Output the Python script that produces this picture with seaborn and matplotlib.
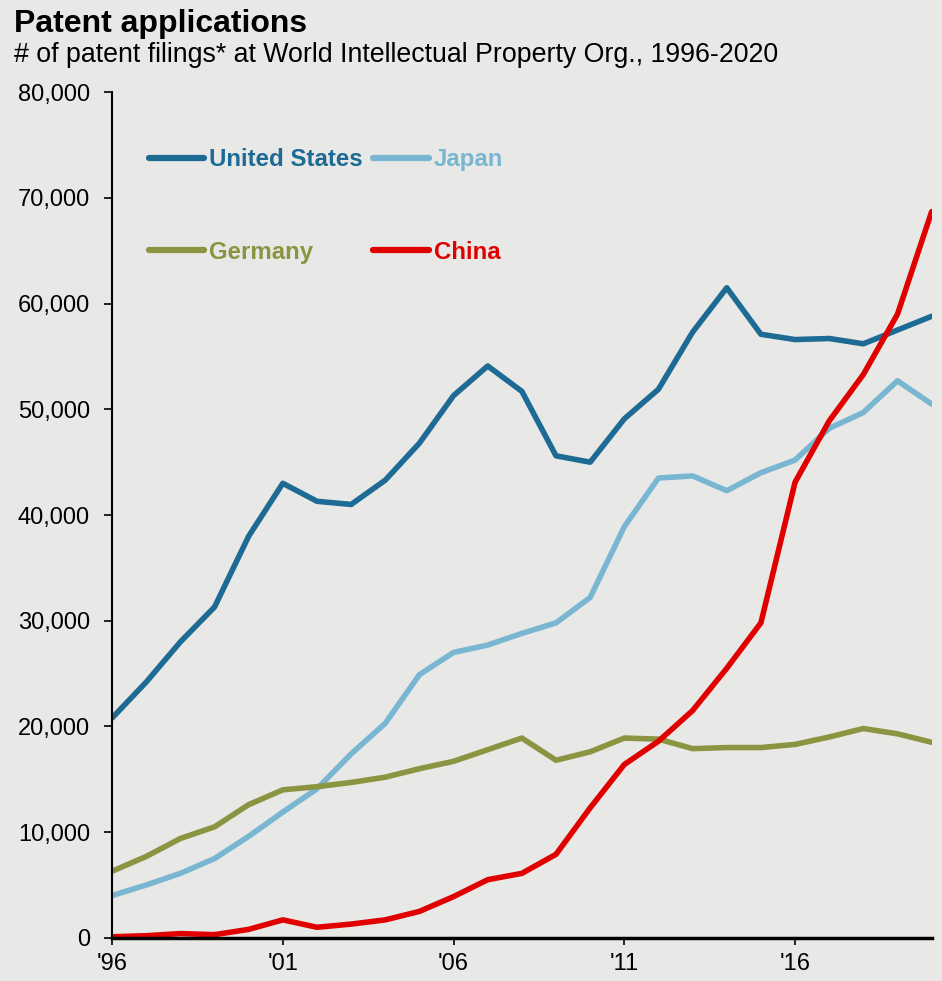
import matplotlib
matplotlib.use("Agg")
import matplotlib.pyplot as plt
import pandas as pd
import seaborn as sns
from matplotlib.ticker import FuncFormatter, MultipleLocator

years = list(range(1996, 2021))

united_states = [20800, 24200, 28000, 31300, 38000, 43000, 41300, 41000, 43300, 46800,
                 51300, 54100, 51700, 45600, 45000, 49100, 51900, 57300, 61500, 57100,
                 56600, 56700, 56200, 57500, 58800]
japan = [4000, 5000, 6100, 7500, 9600, 11900, 14100, 17400, 20300, 24900,
         27000, 27700, 28800, 29800, 32200, 38900, 43500, 43700, 42300, 44000,
         45200, 48200, 49700, 52700, 50500]
germany = [6300, 7700, 9400, 10500, 12600, 14000, 14300, 14700, 15200, 16000,
           16700, 17800, 18900, 16800, 17600, 18900, 18800, 17900, 18000, 18000,
           18300, 19000, 19800, 19300, 18500]
china = [100, 200, 400, 300, 800, 1700, 1000, 1300, 1700, 2500,
         3900, 5500, 6100, 7900, 12300, 16400, 18600, 21500, 25500, 29800,
         43100, 48900, 53300, 59000, 68700]

countries = ["United States", "Japan", "Germany", "China"]
legend_order = ["United States", "Germany", "Japan", "China"]  # column-major fill
colors = {"United States": "#1d6a94", "Japan": "#79b6d2",
          "Germany": "#8b9440", "China": "#e00000"}
x_ticks = [1996, 2001, 2006, 2011, 2016]
x_tick_labels = ["'96", "'01", "'06", "'11", "'16"]

df = pd.DataFrame({
    "year": years * 4,
    "filings": united_states + japan + germany + china,
    "country": sum([[c] * len(years) for c in countries], []),
})

BG = "#e8e8e6"
sns.set_style("ticks")
plt.rcParams["font.family"] = ["Liberation Sans", "DejaVu Sans"]
plt.rcParams["text.color"] = "black"

fig = plt.figure(figsize=(9.42, 9.81), dpi=100, facecolor=BG)
ax = fig.add_axes([0.119, 0.044, 0.870, 0.862])
ax.set_facecolor(BG)

sns.lineplot(data=df, x="year", y="filings", hue="country", hue_order=countries,
             palette=colors, linewidth=4, ax=ax, legend=False)

ax.set_xlim(1996, 2020)
ax.set_ylim(0, 80000)
ax.yaxis.set_major_locator(MultipleLocator(10000))
ax.yaxis.set_major_formatter(FuncFormatter(lambda v, _: f"{int(v):,}"))
ax.set_xticks(x_ticks)
ax.set_xticklabels(x_tick_labels)
ax.tick_params(axis="both", labelsize=17, length=6, width=1.2,
               colors="black", labelcolor="black")
ax.tick_params(axis="y", pad=10)
ax.tick_params(axis="x", length=5, pad=6)
ax.set_xlabel("")
ax.set_ylabel("")
for side in ["top", "right"]:
    ax.spines[side].set_visible(False)
ax.spines["left"].set_linewidth(1.5)
ax.spines["left"].set_color("black")
ax.spines["bottom"].set_linewidth(2.5)
ax.spines["bottom"].set_color("black")

# legend: colored line + bold colored label, two rows of two
handles = [plt.Line2D([], [], color=colors[c], lw=4.5, solid_capstyle="round") for c in legend_order]
leg = ax.legend(handles, legend_order, ncol=2, loc="upper left",
                bbox_to_anchor=(0.045, 0.934), frameon=False,
                prop={"weight": "bold", "size": 17.3}, handlelength=2.3,
                handletextpad=0.2, columnspacing=0.45, labelspacing=2.9,
                borderpad=0, borderaxespad=0)
for text, c in zip(leg.get_texts(), legend_order):
    text.set_color(colors[c])

fig.text(0.015, 0.9674, "Patent applications", fontsize=23, fontweight="bold",
         va="baseline", ha="left")
fig.text(0.015, 0.9368, "# of patent filings* at World Intellectual Property Org., 1996-2020",
         fontsize=19.3, va="baseline", ha="left")

fig.savefig("out.png", dpi=100, facecolor=BG)
